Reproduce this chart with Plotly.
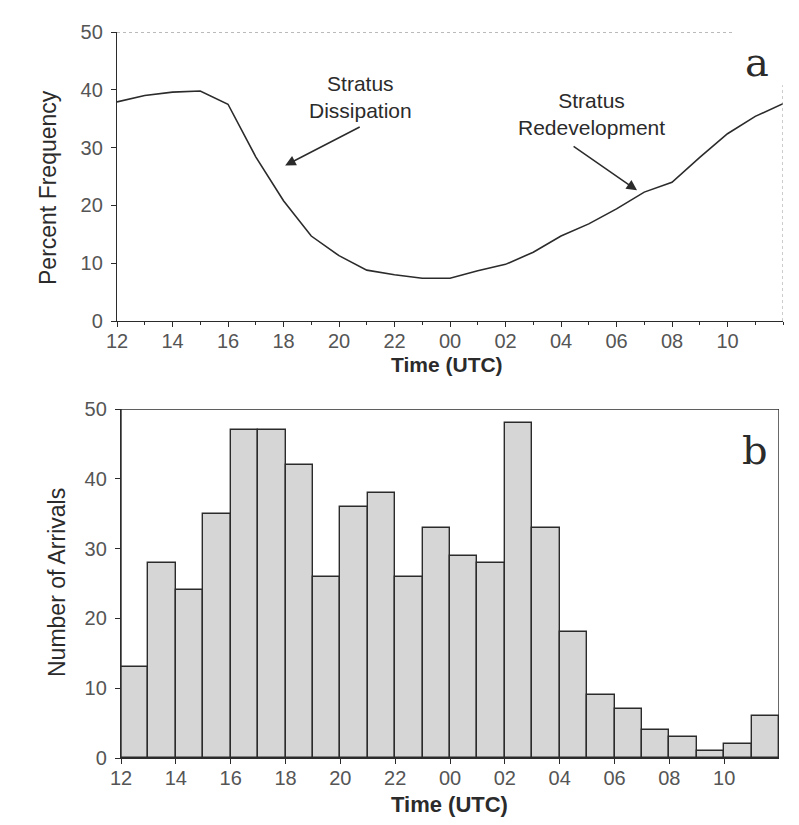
import plotly.graph_objects as go

# ---- data ----
hours_line = list(range(12, 37))  # 12 UTC .. 12 UTC next day
percent_freq = [37.9, 39.0, 39.6, 39.8, 37.5, 28.4, 20.8, 14.7, 11.3, 8.8, 8.0,
                7.4, 7.4, 8.7, 9.8, 11.9, 14.7, 16.8, 19.4, 22.3, 24.0, 28.3,
                32.4, 35.4, 37.6]

bar_hours = [h + 0.5 for h in range(12, 36)]
arrivals = [13, 28, 24, 35, 47, 47, 42, 26, 36, 38, 26, 33,
            29, 28, 48, 33, 18, 9, 7, 4, 3, 1, 2, 6]

tick_vals = list(range(12, 36, 2))
tick_text = ["12", "14", "16", "18", "20", "22", "00", "02", "04", "06", "08", "10"]
y_ticks = [0, 10, 20, 30, 40, 50]

W, H = 799, 825
def px_x(a, b):
    return [a / W, b / W]
def px_y(top, bottom):
    return [1 - bottom / H, 1 - top / H]

INK = "#2b2b2b"
TICKC = "#555555"
FONT = "Liberation Sans, Arial, sans-serif"

fig = go.Figure()

fig.add_trace(go.Scatter(x=hours_line, y=percent_freq, mode="lines",
                         line=dict(color=INK, width=1.6), xaxis="x", yaxis="y",
                         showlegend=False, hoverinfo="skip"))

fig.add_trace(go.Bar(x=bar_hours, y=arrivals, width=1.0,
                     marker=dict(color="#d6d6d6", line=dict(color=INK, width=1.4)),
                     xaxis="x2", yaxis="y2", showlegend=False, hoverinfo="skip"))

axis_common = dict(showgrid=False, zeroline=False, showline=True, linecolor=INK,
                   linewidth=1.4, ticks="outside", tickcolor=INK, ticklen=5,
                   automargin=False,
                   tickfont=dict(family=FONT, size=20, color=TICKC))

fig.update_layout(
    width=W, height=H,
    margin=dict(l=0, r=0, t=0, b=0),
    paper_bgcolor="white", plot_bgcolor="rgba(0,0,0,0)",
    font=dict(family=FONT, color=INK),
    bargap=0,
    xaxis=dict(domain=px_x(117, 783), range=[12, 36], anchor="y",
               tickvals=tick_vals, ticktext=tick_text, ticklabelstandoff=-3,
               minor=dict(dtick=1, ticks="outside", ticklen=3, tickcolor=INK),
               **axis_common),
    yaxis=dict(domain=px_y(32, 321), range=[0, 50], anchor="x",
               tickvals=y_ticks, ticklabelstandoff=4,
               **axis_common),
    xaxis2=dict(domain=px_x(121, 779), range=[12, 36], anchor="y2",
                tickvals=tick_vals, ticktext=tick_text, ticklabelstandoff=-3,
                **axis_common),
    yaxis2=dict(domain=px_y(409, 758), range=[0, 50], anchor="x2",
                tickvals=y_ticks, ticklabelstandoff=4,
                **axis_common),
)

def paper_text(xpx, ypx, text, size, angle=0, family=FONT):
    fig.add_annotation(xref="paper", yref="paper", x=xpx / W, y=1 - ypx / H,
                       xanchor="center", yanchor="middle",
                       text=text, textangle=angle, showarrow=False,
                       font=dict(family=family, size=size, color=INK))

# axis titles
paper_text(48, 188, "Percent Frequency", 23, -90)
paper_text(57, 583, "Number of Arrivals", 23, -90)
paper_text(447, 365, "<b>Time (UTC)</b>", 21)
paper_text(450, 804, "<b>Time (UTC)</b>", 22)

# faint dotted frame on top panel
fig.add_shape(type="line", xref="x", yref="y", x0=12, x1=34.2, y0=50, y1=50,
              line=dict(color="#777777", width=1.2, dash="dot"))
fig.add_shape(type="line", xref="x", yref="y", x0=36, x1=36, y0=0, y1=40.8,
              line=dict(color="#999999", width=1, dash="dot"))

# full box on bottom panel
fig.add_shape(type="rect", xref="x2", yref="y2", x0=12, x1=36, y0=0, y1=50,
              line=dict(color=INK, width=1.4), fillcolor="rgba(0,0,0,0)")

# annotations top panel
fig.add_annotation(xref="x", yref="y", x=18.06, y=26.9, ax=20.8, ay=33.7,
                   axref="x", ayref="y", showarrow=True, arrowhead=2, arrowsize=1.4,
                   arrowwidth=1.5, arrowcolor=INK, text="")
fig.add_annotation(xref="x", yref="y", x=20.76, y=38.8,
                   text="Stratus<br>Dissipation", showarrow=False,
                   font=dict(family=FONT, size=21, color=INK), align="center")
fig.add_annotation(xref="x", yref="y", x=30.74, y=22.6, ax=28.4, ay=30.4,
                   axref="x", ayref="y", showarrow=True, arrowhead=2, arrowsize=1.4,
                   arrowwidth=1.5, arrowcolor=INK, text="")
fig.add_annotation(xref="x", yref="y", x=29.1, y=35.8,
                   text="Stratus<br>Redevelopment", showarrow=False,
                   font=dict(family=FONT, size=21, color=INK), align="center")

# panel letters
paper_text(757, 62, "a", 40, family="DejaVu Serif, serif")
paper_text(755, 450, "b", 40, family="DejaVu Serif, serif")

fig.write_html("out.html")
